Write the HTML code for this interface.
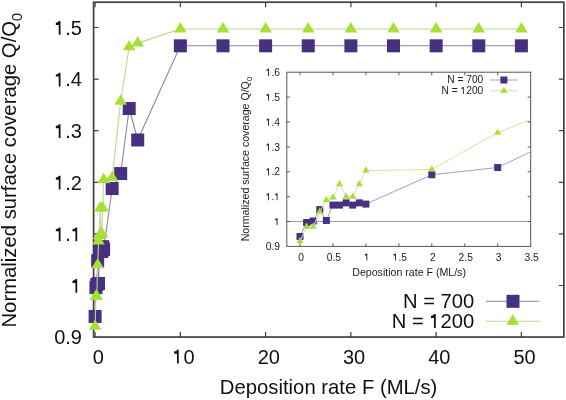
<!DOCTYPE html><html><head><meta charset="utf-8"><style>html,body{margin:0;padding:0;background:#fff;}svg{display:block;}text{filter:grayscale(1);}text{font-family:"Liberation Sans",sans-serif;}</style></head><body>
<svg width="566" height="400" viewBox="0 0 566 400">
<rect width="566" height="400" fill="#fff"/>
<defs><clipPath id="mc"><rect x="93.6" y="2.2" width="470.25" height="334.85"/></clipPath>
<clipPath id="ic"><rect x="286.8" y="72.2" width="243.90000000000003" height="174.2"/></clipPath></defs>
<rect x="93.6" y="2.2" width="470.25" height="334.85" fill="none" stroke="#404040" stroke-width="1.7"/>
<path d="M93.6,285.50h5M563.85,285.50h-5M93.6,233.90h5M563.85,233.90h-5M93.6,182.30h5M563.85,182.30h-5M93.6,130.70h5M563.85,130.70h-5M93.6,79.10h5M563.85,79.10h-5M93.6,27.50h5M563.85,27.50h-5M95.10,337.05v-5M95.10,2.2v5M180.36,337.05v-5M180.36,2.2v5M265.62,337.05v-5M265.62,2.2v5M350.88,337.05v-5M350.88,2.2v5M436.14,337.05v-5M436.14,2.2v5M521.40,337.05v-5M521.40,2.2v5" stroke="#404040" stroke-width="1.2" fill="none"/>
<g clip-path="url(#mc)">
<polyline fill="none" stroke="#8a84ad" stroke-width="1.1" stroke-linejoin="round" points="95.10,316.46 95.95,287.56 96.81,284.47 97.66,260.73 98.51,283.44 99.36,251.44 100.22,251.44 101.07,246.80 101.92,251.44 102.77,246.80 103.63,249.38 112.15,188.49 120.68,173.53 129.20,108.51 137.73,139.99 180.36,45.82 222.99,45.82 265.62,45.82 308.25,45.82 350.88,45.82 393.51,45.82 436.14,45.82 478.77,45.82 521.40,45.82"/>
</g>
<rect x="88.60" y="309.96" width="13.00" height="13.00" fill="#47307f"/>
<rect x="89.45" y="281.06" width="13.00" height="13.00" fill="#47307f"/>
<rect x="90.31" y="277.97" width="13.00" height="13.00" fill="#47307f"/>
<rect x="91.16" y="254.23" width="13.00" height="13.00" fill="#47307f"/>
<rect x="92.01" y="276.94" width="13.00" height="13.00" fill="#47307f"/>
<rect x="92.86" y="244.94" width="13.00" height="13.00" fill="#47307f"/>
<rect x="93.72" y="244.94" width="13.00" height="13.00" fill="#47307f"/>
<rect x="94.57" y="240.30" width="13.00" height="13.00" fill="#47307f"/>
<rect x="95.42" y="244.94" width="13.00" height="13.00" fill="#47307f"/>
<rect x="96.27" y="240.30" width="13.00" height="13.00" fill="#47307f"/>
<rect x="97.13" y="242.88" width="13.00" height="13.00" fill="#47307f"/>
<rect x="105.65" y="181.99" width="13.00" height="13.00" fill="#47307f"/>
<rect x="114.18" y="167.03" width="13.00" height="13.00" fill="#47307f"/>
<rect x="122.70" y="102.01" width="13.00" height="13.00" fill="#47307f"/>
<rect x="131.23" y="133.49" width="13.00" height="13.00" fill="#47307f"/>
<rect x="173.86" y="39.32" width="13.00" height="13.00" fill="#47307f"/>
<rect x="216.49" y="39.32" width="13.00" height="13.00" fill="#47307f"/>
<rect x="259.12" y="39.32" width="13.00" height="13.00" fill="#47307f"/>
<rect x="301.75" y="39.32" width="13.00" height="13.00" fill="#47307f"/>
<rect x="344.38" y="39.32" width="13.00" height="13.00" fill="#47307f"/>
<rect x="387.01" y="39.32" width="13.00" height="13.00" fill="#47307f"/>
<rect x="429.64" y="39.32" width="13.00" height="13.00" fill="#47307f"/>
<rect x="472.27" y="39.32" width="13.00" height="13.00" fill="#47307f"/>
<rect x="514.90" y="39.32" width="13.00" height="13.00" fill="#47307f"/>
<g clip-path="url(#mc)">
<polyline fill="none" stroke="#bcd98a" stroke-width="1.1" stroke-linejoin="round" points="95.10,326.26 95.95,296.34 96.81,296.34 97.66,264.86 98.51,241.12 99.36,235.45 100.22,208.10 101.07,233.90 101.92,233.90 102.77,208.10 103.63,179.72 112.15,177.66 120.68,101.29 129.20,46.80 137.73,43.13 180.36,28.94 222.99,28.94 265.62,28.94 308.25,28.94 350.88,28.94 393.51,28.94 436.14,28.94 478.77,28.94 521.40,28.94"/>
</g>
<polygon points="95.10,319.40 88.80,329.70 101.40,329.70" fill="#a6e034"/>
<polygon points="95.95,289.47 89.65,299.77 102.25,299.77" fill="#a6e034"/>
<polygon points="96.81,289.47 90.51,299.77 103.11,299.77" fill="#a6e034"/>
<polygon points="97.66,257.99 91.36,268.29 103.96,268.29" fill="#a6e034"/>
<polygon points="98.51,234.26 92.21,244.56 104.81,244.56" fill="#a6e034"/>
<polygon points="99.36,228.58 93.06,238.88 105.66,238.88" fill="#a6e034"/>
<polygon points="100.22,201.23 93.92,211.53 106.52,211.53" fill="#a6e034"/>
<polygon points="101.07,227.03 94.77,237.33 107.37,237.33" fill="#a6e034"/>
<polygon points="101.92,227.03 95.62,237.33 108.22,237.33" fill="#a6e034"/>
<polygon points="102.77,201.23 96.47,211.53 109.07,211.53" fill="#a6e034"/>
<polygon points="103.63,172.85 97.33,183.15 109.93,183.15" fill="#a6e034"/>
<polygon points="112.15,170.79 105.85,181.09 118.45,181.09" fill="#a6e034"/>
<polygon points="120.68,94.42 114.38,104.72 126.98,104.72" fill="#a6e034"/>
<polygon points="129.20,39.93 122.90,50.23 135.50,50.23" fill="#a6e034"/>
<polygon points="137.73,36.27 131.43,46.57 144.03,46.57" fill="#a6e034"/>
<polygon points="180.36,22.08 174.06,32.38 186.66,32.38" fill="#a6e034"/>
<polygon points="222.99,22.08 216.69,32.38 229.29,32.38" fill="#a6e034"/>
<polygon points="265.62,22.08 259.32,32.38 271.92,32.38" fill="#a6e034"/>
<polygon points="308.25,22.08 301.95,32.38 314.55,32.38" fill="#a6e034"/>
<polygon points="350.88,22.08 344.58,32.38 357.18,32.38" fill="#a6e034"/>
<polygon points="393.51,22.08 387.21,32.38 399.81,32.38" fill="#a6e034"/>
<polygon points="436.14,22.08 429.84,32.38 442.44,32.38" fill="#a6e034"/>
<polygon points="478.77,22.08 472.47,32.38 485.07,32.38" fill="#a6e034"/>
<polygon points="521.40,22.08 515.10,32.38 527.70,32.38" fill="#a6e034"/>
<text x="54.20" y="344.40" font-size="20" fill="#111" style="font-kerning:none">0.9</text>
<text x="70.88" y="292.80" font-size="20" fill="#111" style="font-kerning:none"> </text>
<path d="M465,0L465,1010L165,1010L165,1225C330,1240 430,1310 480,1409L646,1409L646,0Z" fill="#111" transform="translate(70.877,292.800) scale(0.00977,-0.00977)"/>
<text x="54.20" y="241.20" font-size="20" fill="#111" style="font-kerning:none"> . </text>
<path d="M465,0L465,1010L165,1010L165,1225C330,1240 430,1310 480,1409L646,1409L646,0Z" fill="#111" transform="translate(54.197,241.200) scale(0.00977,-0.00977)"/>
<path d="M465,0L465,1010L165,1010L165,1225C330,1240 430,1310 480,1409L646,1409L646,0Z" fill="#111" transform="translate(70.877,241.200) scale(0.00977,-0.00977)"/>
<text x="54.20" y="189.60" font-size="20" fill="#111" style="font-kerning:none"> .2</text>
<path d="M465,0L465,1010L165,1010L165,1225C330,1240 430,1310 480,1409L646,1409L646,0Z" fill="#111" transform="translate(54.197,189.600) scale(0.00977,-0.00977)"/>
<text x="54.20" y="138.00" font-size="20" fill="#111" style="font-kerning:none"> .3</text>
<path d="M465,0L465,1010L165,1010L165,1225C330,1240 430,1310 480,1409L646,1409L646,0Z" fill="#111" transform="translate(54.197,138.000) scale(0.00977,-0.00977)"/>
<text x="54.20" y="86.40" font-size="20" fill="#111" style="font-kerning:none"> .4</text>
<path d="M465,0L465,1010L165,1010L165,1225C330,1240 430,1310 480,1409L646,1409L646,0Z" fill="#111" transform="translate(54.197,86.400) scale(0.00977,-0.00977)"/>
<text x="54.20" y="34.80" font-size="20" fill="#111" style="font-kerning:none"> .5</text>
<path d="M465,0L465,1010L165,1010L165,1225C330,1240 430,1310 480,1409L646,1409L646,0Z" fill="#111" transform="translate(54.197,34.800) scale(0.00977,-0.00977)"/>
<text x="92.74" y="363.60" font-size="20" fill="#111" style="font-kerning:none">0</text>
<text x="172.44" y="363.60" font-size="20" fill="#111" style="font-kerning:none"> 0</text>
<path d="M465,0L465,1010L165,1010L165,1225C330,1240 430,1310 480,1409L646,1409L646,0Z" fill="#111" transform="translate(172.437,363.600) scale(0.00977,-0.00977)"/>
<text x="257.70" y="363.60" font-size="20" fill="#111" style="font-kerning:none">20</text>
<text x="342.96" y="363.60" font-size="20" fill="#111" style="font-kerning:none">30</text>
<text x="428.22" y="363.60" font-size="20" fill="#111" style="font-kerning:none">40</text>
<text x="513.48" y="363.60" font-size="20" fill="#111" style="font-kerning:none">50</text>
<text x="328.6" y="393.9" font-size="20.3" text-anchor="middle" fill="#111">Deposition rate F (ML/s)</text>
<text transform="translate(16.2,170.2) rotate(-90)" font-size="20.3" text-anchor="middle" fill="#111">Normalized surface coverage Q/Q<tspan font-size="14.5" dy="6">0</tspan></text>
<text x="402.99" y="307.70" font-size="20.2" fill="#111" style="font-kerning:none">N = 700</text>
<text x="391.75" y="327.90" font-size="20.2" fill="#111" style="font-kerning:none">N =  200</text>
<path d="M465,0L465,1010L165,1010L165,1225C330,1240 430,1310 480,1409L646,1409L646,0Z" fill="#111" transform="translate(429.363,327.900) scale(0.00986,-0.00986)"/>
<line x1="485.8" y1="301.3" x2="539.4" y2="301.3" stroke="#8a84ad" stroke-width="1.1"/>
<rect x="506.50" y="294.80" width="13.00" height="13.00" fill="#47307f"/>
<line x1="485.8" y1="321.2" x2="539.4" y2="321.2" stroke="#bcd98a" stroke-width="1.1"/>
<polygon points="512.80,314.33 506.50,324.63 519.10,324.63" fill="#a6e034"/>
<rect x="286.8" y="72.2" width="243.90" height="174.20" fill="#fff"/>
<g clip-path="url(#ic)">
<line x1="286.8" y1="221.51" x2="530.7" y2="221.51" stroke="#9c9c9c" stroke-width="1"/>
<polyline fill="none" stroke="#a29dc6" stroke-width="1.0" stroke-linejoin="round" points="300.00,236.45 306.59,222.51 313.18,221.02 319.77,209.57 326.36,220.52 332.95,205.09 339.54,205.09 346.13,202.85 352.72,205.09 359.31,202.85 365.90,204.09 431.80,174.73 497.70,167.51 563.60,136.16 629.50,151.34 959.00,105.92 1288.50,105.92 1618.00,105.92 1947.50,105.92 2277.00,105.92 2606.50,105.92 2936.00,105.92 3265.50,105.92 3595.00,105.92"/>
<rect x="296.50" y="232.95" width="7.00" height="7.00" fill="#47307f"/>
<rect x="303.09" y="219.01" width="7.00" height="7.00" fill="#47307f"/>
<rect x="309.68" y="217.52" width="7.00" height="7.00" fill="#47307f"/>
<rect x="316.27" y="206.07" width="7.00" height="7.00" fill="#47307f"/>
<rect x="322.86" y="217.02" width="7.00" height="7.00" fill="#47307f"/>
<rect x="329.45" y="201.59" width="7.00" height="7.00" fill="#47307f"/>
<rect x="336.04" y="201.59" width="7.00" height="7.00" fill="#47307f"/>
<rect x="342.63" y="199.35" width="7.00" height="7.00" fill="#47307f"/>
<rect x="349.22" y="201.59" width="7.00" height="7.00" fill="#47307f"/>
<rect x="355.81" y="199.35" width="7.00" height="7.00" fill="#47307f"/>
<rect x="362.40" y="200.59" width="7.00" height="7.00" fill="#47307f"/>
<rect x="428.30" y="171.23" width="7.00" height="7.00" fill="#47307f"/>
<rect x="494.20" y="164.01" width="7.00" height="7.00" fill="#47307f"/>
<polyline fill="none" stroke="#cfe6a4" stroke-width="1.0" stroke-linejoin="round" points="300.00,241.17 306.59,226.74 313.18,226.74 319.77,211.56 326.36,200.11 332.95,197.37 339.54,184.19 346.13,196.63 352.72,196.63 359.31,184.19 365.90,170.50 431.80,169.50 497.70,132.67 563.60,106.39 629.50,104.62 959.00,97.78 1288.50,97.78 1618.00,97.78 1947.50,97.78 2277.00,97.78 2606.50,97.78 2936.00,97.78 3265.50,97.78 3595.00,97.78"/>
<polygon points="300.00,237.04 296.40,243.24 303.60,243.24" fill="#a6e034"/>
<polygon points="306.59,222.61 302.99,228.81 310.19,228.81" fill="#a6e034"/>
<polygon points="313.18,222.61 309.58,228.81 316.78,228.81" fill="#a6e034"/>
<polygon points="319.77,207.43 316.17,213.63 323.37,213.63" fill="#a6e034"/>
<polygon points="326.36,195.98 322.76,202.18 329.96,202.18" fill="#a6e034"/>
<polygon points="332.95,193.24 329.35,199.44 336.55,199.44" fill="#a6e034"/>
<polygon points="339.54,180.05 335.94,186.25 343.14,186.25" fill="#a6e034"/>
<polygon points="346.13,192.49 342.53,198.69 349.73,198.69" fill="#a6e034"/>
<polygon points="352.72,192.49 349.12,198.69 356.32,198.69" fill="#a6e034"/>
<polygon points="359.31,180.05 355.71,186.25 362.91,186.25" fill="#a6e034"/>
<polygon points="365.90,166.36 362.30,172.56 369.50,172.56" fill="#a6e034"/>
<polygon points="431.80,165.37 428.20,171.57 435.40,171.57" fill="#a6e034"/>
<polygon points="497.70,128.54 494.10,134.74 501.30,134.74" fill="#a6e034"/>
</g>
<rect x="286.8" y="72.2" width="243.90" height="174.20" fill="none" stroke="#555" stroke-width="1"/>
<path d="M286.8,221.51h3M530.7,221.51h-3M286.8,196.63h3M530.7,196.63h-3M286.8,171.74h3M530.7,171.74h-3M286.8,146.86h3M530.7,146.86h-3M286.8,121.97h3M530.7,121.97h-3M286.8,97.08h3M530.7,97.08h-3M300.00,246.4v-3M300.00,72.2v3M332.95,246.4v-3M332.95,72.2v3M365.90,246.4v-3M365.90,72.2v3M398.85,246.4v-3M398.85,72.2v3M431.80,246.4v-3M431.80,72.2v3M464.75,246.4v-3M464.75,72.2v3M497.70,246.4v-3M497.70,72.2v3" stroke="#555" stroke-width="1" fill="none"/>
<text x="265.68" y="250.10" font-size="10.3" fill="#222" style="font-kerning:none">0.9</text>
<text x="274.27" y="225.21" font-size="10.3" fill="#222" style="font-kerning:none"> </text>
<path d="M465,0L465,1010L165,1010L165,1225C330,1240 430,1310 480,1409L646,1409L646,0Z" fill="#222" transform="translate(274.272,225.214) scale(0.00503,-0.00503)"/>
<text x="265.68" y="200.33" font-size="10.3" fill="#222" style="font-kerning:none"> . </text>
<path d="M465,0L465,1010L165,1010L165,1225C330,1240 430,1310 480,1409L646,1409L646,0Z" fill="#222" transform="translate(265.682,200.328) scale(0.00503,-0.00503)"/>
<path d="M465,0L465,1010L165,1010L165,1225C330,1240 430,1310 480,1409L646,1409L646,0Z" fill="#222" transform="translate(274.272,200.328) scale(0.00503,-0.00503)"/>
<text x="265.68" y="175.44" font-size="10.3" fill="#222" style="font-kerning:none"> .2</text>
<path d="M465,0L465,1010L165,1010L165,1225C330,1240 430,1310 480,1409L646,1409L646,0Z" fill="#222" transform="translate(265.682,175.442) scale(0.00503,-0.00503)"/>
<text x="265.68" y="150.56" font-size="10.3" fill="#222" style="font-kerning:none"> .3</text>
<path d="M465,0L465,1010L165,1010L165,1225C330,1240 430,1310 480,1409L646,1409L646,0Z" fill="#222" transform="translate(265.682,150.556) scale(0.00503,-0.00503)"/>
<text x="265.68" y="125.67" font-size="10.3" fill="#222" style="font-kerning:none"> .4</text>
<path d="M465,0L465,1010L165,1010L165,1225C330,1240 430,1310 480,1409L646,1409L646,0Z" fill="#222" transform="translate(265.682,125.670) scale(0.00503,-0.00503)"/>
<text x="265.68" y="100.78" font-size="10.3" fill="#222" style="font-kerning:none"> .5</text>
<path d="M465,0L465,1010L165,1010L165,1225C330,1240 430,1310 480,1409L646,1409L646,0Z" fill="#222" transform="translate(265.682,100.784) scale(0.00503,-0.00503)"/>
<text x="265.68" y="75.90" font-size="10.3" fill="#222" style="font-kerning:none"> .6</text>
<path d="M465,0L465,1010L165,1010L165,1225C330,1240 430,1310 480,1409L646,1409L646,0Z" fill="#222" transform="translate(265.682,75.898) scale(0.00503,-0.00503)"/>
<text x="298.14" y="260.50" font-size="10.3" fill="#222" style="font-kerning:none">0</text>
<text x="326.79" y="260.50" font-size="10.3" fill="#222" style="font-kerning:none">0.5</text>
<text x="364.04" y="260.50" font-size="10.3" fill="#222" style="font-kerning:none"> </text>
<path d="M465,0L465,1010L165,1010L165,1225C330,1240 430,1310 480,1409L646,1409L646,0Z" fill="#222" transform="translate(364.036,260.500) scale(0.00503,-0.00503)"/>
<text x="392.69" y="260.50" font-size="10.3" fill="#222" style="font-kerning:none"> .5</text>
<path d="M465,0L465,1010L165,1010L165,1225C330,1240 430,1310 480,1409L646,1409L646,0Z" fill="#222" transform="translate(392.691,260.500) scale(0.00503,-0.00503)"/>
<text x="429.94" y="260.50" font-size="10.3" fill="#222" style="font-kerning:none">2</text>
<text x="458.59" y="260.50" font-size="10.3" fill="#222" style="font-kerning:none">2.5</text>
<text x="495.84" y="260.50" font-size="10.3" fill="#222" style="font-kerning:none">3</text>
<text x="524.49" y="260.50" font-size="10.3" fill="#222" style="font-kerning:none">3.5</text>
<text x="409.1" y="276.2" font-size="10.6" text-anchor="middle" fill="#222">Deposition rate F (ML/s)</text>
<text transform="translate(248.8,159) rotate(-90)" font-size="10.6" text-anchor="middle" fill="#222">Normalized surface coverage Q/Q<tspan font-size="8" dy="3">0</tspan></text>
<text x="447.29" y="83.30" font-size="10.2" fill="#222" style="font-kerning:none">N = 700</text>
<text x="441.62" y="93.90" font-size="10.2" fill="#222" style="font-kerning:none">N =  200</text>
<path d="M465,0L465,1010L165,1010L165,1225C330,1240 430,1310 480,1409L646,1409L646,0Z" fill="#222" transform="translate(460.609,93.900) scale(0.00498,-0.00498)"/>
<line x1="490" y1="80" x2="517.8" y2="80" stroke="#a29dc6" stroke-width="1.0"/>
<rect x="500.40" y="76.50" width="7.00" height="7.00" fill="#47307f"/>
<line x1="490" y1="90.8" x2="517.8" y2="90.8" stroke="#cfe6a4" stroke-width="1.0"/>
<polygon points="503.90,86.67 500.30,92.87 507.50,92.87" fill="#a6e034"/>
</svg></body></html>
